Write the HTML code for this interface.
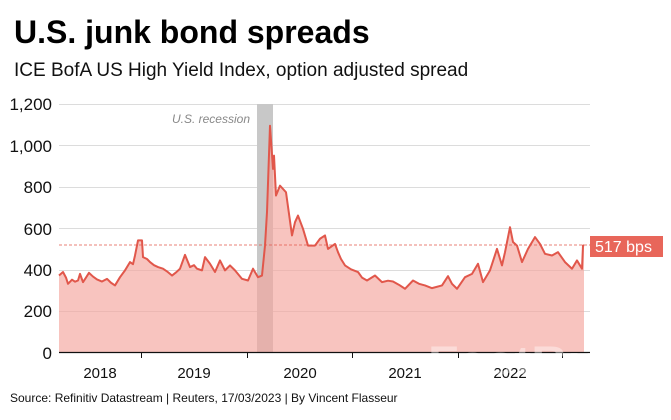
<!DOCTYPE html>
<html><head><style>
body{margin:0;background:#fff;width:671px;height:415px;overflow:hidden;font-family:"Liberation Sans",Arial,sans-serif;}
</style></head><body>
<svg width="671" height="415" xmlns="http://www.w3.org/2000/svg" font-family="Liberation Sans, Arial, sans-serif">
<text x="14" y="43" font-size="32" font-weight="bold" fill="#000">U.S. junk bond spreads</text>
<text x="14" y="76" font-size="19" fill="#111">ICE BofA US High Yield Index, option adjusted spread</text>
<g stroke="#dcdcdc" stroke-width="1">
<line x1="59" x2="590" y1="104.5" y2="104.5"/><line x1="59" x2="590" y1="145.5" y2="145.5"/>
<line x1="59" x2="590" y1="187.5" y2="187.5"/><line x1="59" x2="590" y1="228.5" y2="228.5"/>
<line x1="59" x2="590" y1="270.5" y2="270.5"/><line x1="59" x2="590" y1="311.5" y2="311.5"/>
</g>
<g font-size="17" fill="#111" text-anchor="end">
<text x="52" y="110">1,200</text><text x="52" y="152">1,000</text><text x="52" y="193">800</text>
<text x="52" y="235">600</text><text x="52" y="276">400</text><text x="52" y="317">200</text><text x="52" y="359">0</text>
</g>
<rect x="257" y="104" width="16" height="248" fill="#c8c8c8"/>
<text x="250" y="123" font-size="12" font-style="italic" fill="#888" text-anchor="end">U.S. recession</text>
<g transform="translate(0,352) scale(1,-0.20667)">
<polygon fill="#f4a49c" fill-opacity="0.65" points="59,0 59,370 63,387 66,360 68,330 72,350 75,340 78,346 80,378 83,338 86,360 89,383 93,365 97,351 102,341 107,354 111,335 115,322 120,362 125,395 130,435 133,425 135,467 138,540 142,540 143,459 147,450 150,435 154,420 158,411 163,403 167,390 172,370 176,385 180,403 185,470 190,411 194,420 197,403 202,395 205,459 210,427 215,387 220,443 225,395 230,419 235,395 242,354 248,346 253,403 258,362 262,370 265,515 267,677 270,1095 273,886 274,950 276,757 280,805 286,773 292,564 295,628 298,660 303,596 308,515 315,515 320,548 325,564 328,499 335,523 338,483 341,450 345,419 351,400 358,387 362,360 367,346 375,370 382,338 388,345 393,341 399,325 405,306 413,346 419,330 425,322 432,309 442,322 448,367 452,330 457,306 465,362 472,378 478,427 483,338 490,395 497,499 502,419 505,483 510,604 513,532 517,515 522,435 528,499 535,556 540,523 545,475 552,467 558,483 565,435 572,403 577,443 582,403 583,515 584,517 584,0"/>
<polyline fill="none" stroke="#e1574b" stroke-width="2" vector-effect="non-scaling-stroke" stroke-linejoin="round" points="59,370 63,387 66,360 68,330 72,350 75,340 78,346 80,378 83,338 86,360 89,383 93,365 97,351 102,341 107,354 111,335 115,322 120,362 125,395 130,435 133,425 135,467 138,540 142,540 143,459 147,450 150,435 154,420 158,411 163,403 167,390 172,370 176,385 180,403 185,470 190,411 194,420 197,403 202,395 205,459 210,427 215,387 220,443 225,395 230,419 235,395 242,354 248,346 253,403 258,362 262,370 265,515 267,677 270,1095 273,886 274,950 276,757 280,805 286,773 292,564 295,628 298,660 303,596 308,515 315,515 320,548 325,564 328,499 335,523 338,483 341,450 345,419 351,400 358,387 362,360 367,346 375,370 382,338 388,345 393,341 399,325 405,306 413,346 419,330 425,322 432,309 442,322 448,367 452,330 457,306 465,362 472,378 478,427 483,338 490,395 497,499 502,419 505,483 510,604 513,532 517,515 522,435 528,499 535,556 540,523 545,475 552,467 558,483 565,435 572,403 577,443 582,403 583,515 584,517"/>
</g>
<line x1="59" x2="590" y1="245" y2="245" stroke="#e1574b" stroke-width="0.8" stroke-dasharray="3,2"/>
<rect x="590" y="236" width="73" height="21" fill="#e8665a"/>
<text x="595" y="252" font-size="16" fill="#fff">517 bps</text>
<line x1="59" x2="590" y1="352.5" y2="352.5" stroke="#111" stroke-width="1.2"/>
<g stroke="#111" stroke-width="1"><line x1="141.5" x2="141.5" y1="352" y2="358"/><line x1="247.5" x2="247.5" y1="352" y2="358"/><line x1="352.5" x2="352.5" y1="352" y2="358"/><line x1="458.5" x2="458.5" y1="352" y2="358"/><line x1="562.5" x2="562.5" y1="352" y2="358"/></g>
<g font-size="15" fill="#111" text-anchor="middle">
<text x="100" y="378">2018</text><text x="194" y="378">2019</text><text x="300" y="378">2020</text><text x="405" y="378">2021</text><text x="510" y="378">2022</text>
</g>
<text x="428" y="374" font-size="40" font-weight="bold" fill="#fff" fill-opacity="0.4" textLength="198" lengthAdjust="spacingAndGlyphs">FastBull</text>
<text x="10" y="402" font-size="12" fill="#111">Source: Refinitiv Datastream | Reuters, 17/03/2023 | By Vincent Flasseur</text>
</svg>
</body></html>
